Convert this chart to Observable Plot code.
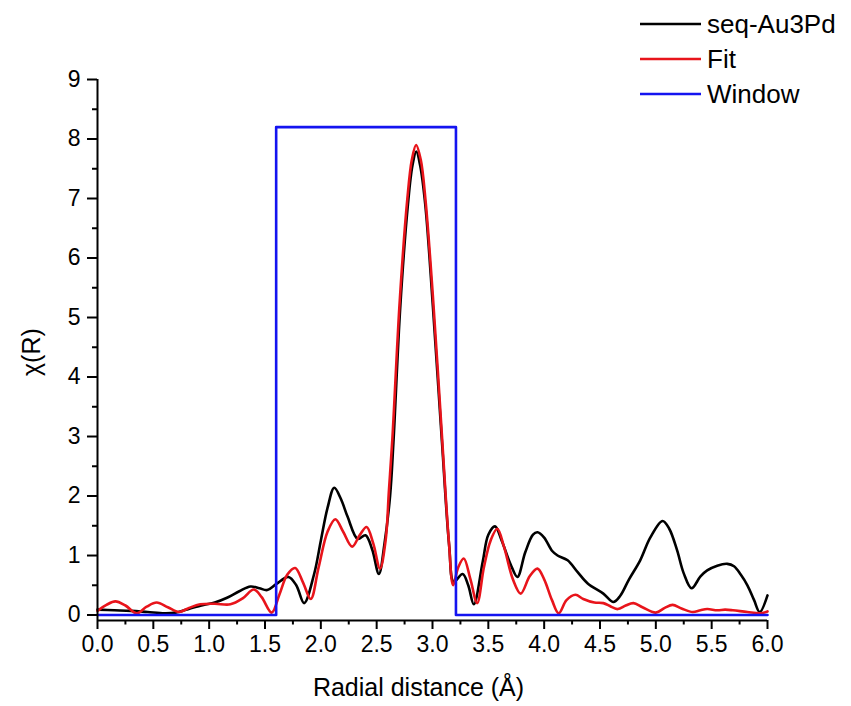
<!DOCTYPE html>
<html>
<head>
<meta charset="utf-8">
<script src="https://cdn.jsdelivr.net/npm/d3@7"></script>
<script src="https://cdn.jsdelivr.net/npm/@observablehq/plot@0.6"></script>
<style>
  html, body { margin: 0; padding: 0; background: #fff; }
  #chart { position: relative; width: 851px; height: 706px; }
</style>
</head>
<body>
<div id="chart"></div>
<script>
// ---- data ----
const seriesNames = ["seq-Au3Pd", "Fit", "Window"];
const seriesColors = ["#000000", "#e8141b", "#1414f0"];

const rData = [0.00,0.15,0.30,0.45,0.60,0.70,0.83,0.95,1.05,1.16,1.27,1.37,1.45,1.52,1.60,1.71,1.78,1.85,1.94,2.00,2.06,2.12,2.18,2.24,2.33,2.40,2.46,2.52,2.57,2.62,2.65,2.712,2.78,2.82,2.855,2.89,2.935,3.003,3.085,3.15,3.19,3.27,3.32,3.37,3.45,3.50,3.56,3.62,3.70,3.76,3.83,3.90,3.94,4.00,4.07,4.12,4.21,4.30,4.39,4.53,4.62,4.68,4.76,4.86,4.95,5.06,5.12,5.19,5.25,5.32,5.40,5.46,5.55,5.64,5.70,5.76,5.82,5.88,5.93,6.00];
const chiData = [0.09,0.08,0.07,0.05,0.03,0.04,0.11,0.17,0.21,0.29,0.40,0.48,0.45,0.42,0.52,0.64,0.50,0.20,0.69,1.25,1.80,2.14,1.95,1.65,1.28,1.34,1.10,0.69,1.20,2.00,2.90,5.20,6.90,7.55,7.79,7.55,6.90,5.20,2.90,1.15,0.56,0.69,0.50,0.18,0.90,1.35,1.49,1.25,0.85,0.64,1.05,1.35,1.39,1.30,1.08,1.00,0.92,0.72,0.53,0.36,0.22,0.32,0.60,0.92,1.30,1.58,1.45,1.09,0.70,0.45,0.65,0.75,0.83,0.86,0.82,0.68,0.50,0.25,0.05,0.33];

const rFit = [0.00,0.08,0.16,0.25,0.35,0.44,0.53,0.63,0.73,0.82,0.92,1.05,1.19,1.30,1.40,1.47,1.56,1.63,1.70,1.77,1.84,1.91,1.98,2.06,2.13,2.20,2.28,2.35,2.41,2.47,2.53,2.58,2.61,2.64,2.707,2.774,2.815,2.853,2.895,2.937,3.006,3.087,3.146,3.185,3.23,3.28,3.34,3.40,3.46,3.52,3.58,3.64,3.72,3.79,3.87,3.94,4.00,4.07,4.13,4.20,4.28,4.35,4.45,4.53,4.60,4.66,4.73,4.80,4.88,5.00,5.08,5.15,5.23,5.33,5.40,5.46,5.55,5.62,5.69,5.82,5.94,6.00];
const chiFit = [0.07,0.17,0.23,0.16,0.03,0.14,0.21,0.13,0.05,0.12,0.18,0.19,0.18,0.28,0.43,0.30,0.04,0.35,0.68,0.79,0.55,0.27,0.80,1.40,1.61,1.40,1.15,1.35,1.48,1.20,0.78,1.25,2.10,2.94,5.29,6.98,7.65,7.90,7.65,6.98,5.29,2.94,1.25,0.50,0.80,0.95,0.60,0.20,0.80,1.25,1.45,1.15,0.60,0.36,0.65,0.78,0.60,0.25,0.03,0.25,0.34,0.27,0.21,0.20,0.14,0.10,0.16,0.20,0.13,0.04,0.12,0.17,0.11,0.05,0.08,0.10,0.08,0.09,0.08,0.05,0.03,0.06];

const rWindow = [0.00,1.60,1.60,3.21,3.21,6.00];
const chiWindow = [0.00,0.00,8.20,8.20,0.00,0.00];

const xMajorTicks = [0.0,0.5,1.0,1.5,2.0,2.5,3.0,3.5,4.0,4.5,5.0,5.5,6.0];
const xMinorTicks = [0.25,0.75,1.25,1.75,2.25,2.75,3.25,3.75,4.25,4.75,5.25,5.75];
const yMajorTicks = [0,1,2,3,4,5,6,7,8,9];
const yMinorTicks = [0.5,1.5,2.5,3.5,4.5,5.5,6.5,7.5,8.5];

const xLabel = "Radial distance (Å)";
const yLabel = "χ(R)";

// ---- build tables ----
const dataRows = rData.map((r, i) => ({r, chi: chiData[i]}));
const fitRows = rFit.map((r, i) => ({r, chi: chiFit[i]}));
const winRows = rWindow.map((r, i) => ({r, chi: chiWindow[i]}));

const yMin = -0.092;
const font = "'Liberation Sans', Arial, Helvetica, sans-serif";
const fmtX = d3.format(".1f");
const fmtY = d3.format("d");

const plot = Plot.plot({
  width: 851,
  height: 706,
  marginLeft: 97,
  marginRight: 84,
  marginTop: 79,
  marginBottom: 86,
  x: {domain: [0, 6]},
  y: {domain: [yMin, 9]},
  style: {fontFamily: font, fontSize: "20px", color: "#000", background: "#fff", overflow: "visible"},
  marks: [
    Plot.line(dataRows, {x: "r", y: "chi", curve: "catmull-rom", stroke: seriesColors[0], strokeWidth: 2.6}),
    Plot.line(fitRows, {x: "r", y: "chi", curve: "catmull-rom", stroke: seriesColors[1], strokeWidth: 2.6}),
    Plot.line(winRows, {x: "r", y: "chi", curve: "linear", stroke: seriesColors[2], strokeWidth: 2.6}),
    Plot.ruleY([yMin], {stroke: "#000", strokeWidth: 2}),
    Plot.ruleX([0], {stroke: "#000", strokeWidth: 2}),
    // tick marks
    Plot.axisX({ticks: xMajorTicks, tickSize: 9, tickFormat: () => "", label: null, strokeWidth: 2}),
    Plot.axisX({ticks: xMinorTicks, tickSize: 4.5, tickFormat: () => "", label: null, strokeWidth: 2}),
    Plot.axisY({ticks: yMajorTicks, tickSize: 10, tickFormat: () => "", label: null, strokeWidth: 2}),
    Plot.axisY({ticks: yMinorTicks, tickSize: 5, tickFormat: () => "", label: null, strokeWidth: 2}),
    // tick labels
    Plot.text(xMajorTicks, {x: d => d, y: yMin, text: d => fmtX(d), dy: 24, lineAnchor: "middle", fontSize: 23, fill: "#000"}),
    Plot.text(yMajorTicks, {x: 0, y: d => d, text: d => fmtY(d), dx: -17, textAnchor: "end", lineAnchor: "middle", fontSize: 23, fill: "#000"}),
    // axis titles
    Plot.text([xLabel], {frameAnchor: "bottom", dx: -14, dy: 75, fontSize: 25, fill: "#000"}),
    Plot.text([yLabel], {frameAnchor: "left", dx: -66, dy: 26, rotate: -90, fontSize: 25, fill: "#000"})
  ]
});

document.getElementById("chart").appendChild(plot);

// ---- legend (top right) ----
const svg = d3.select(plot);
const legend = svg.append("g")
  .attr("font-family", font)
  .attr("font-size", 26)
  .attr("text-anchor", "start");
seriesNames.forEach((name, i) => {
  const y = 24 + i * 35;
  legend.append("line")
    .attr("x1", 640).attr("x2", 701).attr("y1", y).attr("y2", y)
    .attr("stroke", seriesColors[i]).attr("stroke-width", 2.6);
  legend.append("text")
    .attr("x", 707).attr("y", y).attr("dy", "0.36em")
    .attr("text-anchor", "start")
    .attr("fill", "#000").text(name);
});
</script>
</body>
</html>
